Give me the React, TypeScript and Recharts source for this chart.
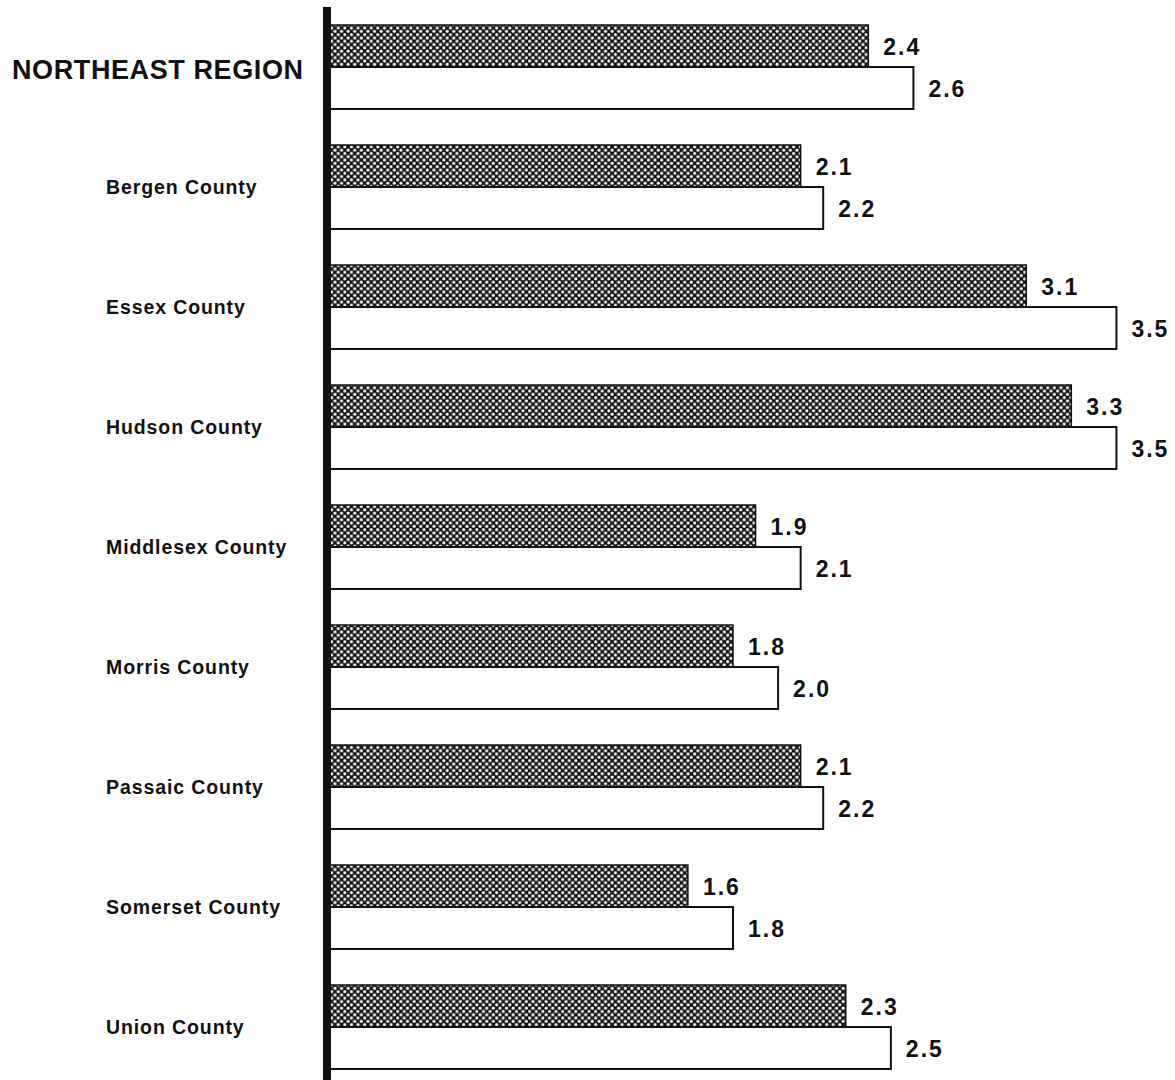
import React from "react";
import { BarChart, Bar, XAxis, YAxis, LabelList } from "recharts";

const categories = [
  "NORTHEAST REGION",
  "Bergen County",
  "Essex County",
  "Hudson County",
  "Middlesex County",
  "Morris County",
  "Passaic County",
  "Somerset County",
  "Union County",
];
const dottedValues = [2.4, 2.1, 3.1, 3.3, 1.9, 1.8, 2.1, 1.6, 2.3];
const openValues = [2.6, 2.2, 3.5, 3.5, 2.1, 2.0, 2.2, 1.8, 2.5];
const valueDomain = [0, 3.64];

const data = categories.map((name, i) => ({
  name,
  dotted: dottedValues[i],
  open: openValues[i],
}));

const FONT = '"Liberation Sans", Arial, Helvetica, sans-serif';

function CategoryTick(props: any) {
  const { y, payload } = props;
  const isRegion = payload.value === categories[0];
  return (
    <text
      x={isRegion ? 12 : 106}
      y={y}
      dy={isRegion ? 12 : 7}
      textAnchor="start"
      fontFamily={FONT}
      fontWeight="bold"
      fontSize={isRegion ? 27 : 19.5}
      style={{ letterSpacing: isRegion ? 0.6 : 0.9 }}
      fill="#111"
    >
      {payload.value}
    </text>
  );
}

function ValueLabel(props: any) {
  const { x, y, width, height, value } = props;
  return (
    <text
      x={Number(x) + Number(width) + 15}
      y={Number(y) + Number(height) / 2 + 9}
      textAnchor="start"
      fontFamily={FONT}
      fontWeight="bold"
      fontSize={23}
      style={{ letterSpacing: 2 }}
      fill="#111"
    >
      {Number(value).toFixed(1)}
    </text>
  );
}

export default function App() {
  return (
    <div
      style={{
        position: "fixed",
        left: 0,
        top: 0,
        width: 1175,
        height: 1080,
        overflow: "hidden",
        background: "#fff",
      }}
    >
      <BarChart
        width={1175}
        height={1090}
        data={data}
        layout="vertical"
        margin={{ top: 7, right: 27, bottom: 3, left: 0 }}
        barSize={42}
        barGap={0}
      >
        <defs>
          <pattern
            id="dots"
            width={6.6}
            height={6.6}
            patternUnits="userSpaceOnUse"
          >
            <rect width={6.6} height={6.6} fill="#141414" />
            <circle cx={1.65} cy={1.65} r={1.6} fill="#f4f4f4" />
            <circle cx={4.95} cy={4.95} r={1.6} fill="#f4f4f4" />
          </pattern>
        </defs>
        <XAxis type="number" domain={valueDomain} hide />
        <YAxis
          type="category"
          dataKey="name"
          width={327}
          tickLine={false}
          axisLine={{ stroke: "#111", strokeWidth: 8 }}
          tick={<CategoryTick />}
          interval={0}
        />
        <Bar
          dataKey="dotted"
          fill="url(#dots)"
          stroke="#111"
          strokeWidth={1.5}
          isAnimationActive={false}
        >
          <LabelList dataKey="dotted" content={<ValueLabel />} />
        </Bar>
        <Bar
          dataKey="open"
          fill="#fff"
          stroke="#111"
          strokeWidth={2}
          isAnimationActive={false}
        >
          <LabelList dataKey="open" content={<ValueLabel />} />
        </Bar>
      </BarChart>
    </div>
  );
}
